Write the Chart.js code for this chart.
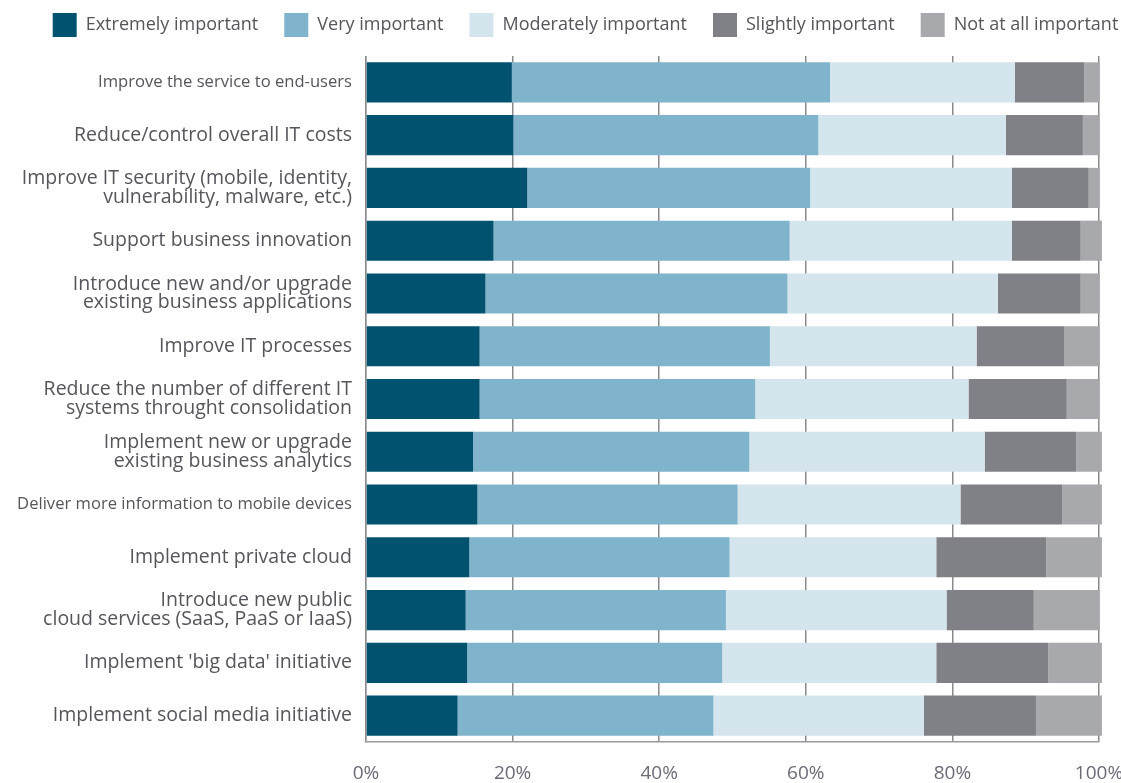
<!DOCTYPE html>
<html>
<head>
<meta charset="utf-8">
<script src="https://cdn.jsdelivr.net/npm/chart.js@4"></script>
<style>
  html, body { margin: 0; padding: 0; background: #fff; overflow: hidden; }
</style>
</head>
<body>
<canvas id="chart" width="1121" height="783"></canvas>
<script>
// priorities, top to bottom
const categories = [
    'Improve the service to end-users',
    'Reduce/control overall IT costs',
    ['Improve IT security (mobile, identity,', 'vulnerability, malware, etc.)'],
    'Support business innovation',
    ['Introduce new and/or upgrade', 'existing business applications'],
    'Improve IT processes',
    ['Reduce the number of different IT', 'systems throught consolidation'],
    ['Implement new or upgrade', 'existing business analytics'],
    'Deliver more information to mobile devices',
    'Implement private cloud',
    ['Introduce new public', 'cloud services (SaaS, PaaS or IaaS)'],
    "Implement 'big data' initiative",
    'Implement social media initiative'
];

const seriesNames = ['Extremely important', 'Very important', 'Moderately important', 'Slightly important', 'Not at all important'];

// percentages
const extremely  = [19.9, 20.1, 22.0, 17.4, 16.3, 15.5, 15.5, 14.6, 15.2, 14.1, 13.6, 13.8, 12.5];
const very       = [43.4, 41.6, 38.6, 40.4, 41.2, 39.6, 37.6, 37.7, 35.5, 35.5, 35.5, 34.8, 34.9];
const moderately = [25.2, 25.6, 27.5, 30.3, 28.7, 28.2, 29.1, 32.1, 30.4, 28.2, 30.1, 29.2, 28.7];
const slightly   = [9.5, 10.5, 10.5, 9.4, 11.3, 12.0, 13.4, 12.5, 13.9, 15.0, 11.9, 15.3, 15.3];
const notAtAll   = [2.1, 2.3, 1.5, 2.9, 2.6, 4.8, 4.5, 3.5, 5.4, 7.6, 9.0, 7.3, 9.0];

const xTicks = [0, 20, 40, 60, 80, 100];

const colors = ['#00526e', '#80b3cc', '#d4e5ee', '#808186', '#a8a9ad'];
const FONT = '"Open Sans", Lato, sans-serif';

// the original squeezes these two long labels
const squeezed = [0, 8];

let allSeries = [extremely, very, moderately, slightly, notAtAll];
let datasets = allSeries.map((vals, i) => ({
    label: seriesNames[i],
    data: vals,
    backgroundColor: colors[i],
    borderWidth: 0,
    barPercentage: 0.76,
    categoryPercentage: 1.0,
    clip: false
}));

// fixed legend band height, and nudge the legend a bit right like the original
const legendTweak = {
    id: 'legendTweak',
    afterInit(chart) {
        let legend = chart.legend;
        let fit = legend.fit;
        legend.fit = function () {
            fit.call(this);
            this.height = 69;
        };
        let draw = legend.draw;
        legend.draw = function () {
            let c = this.ctx;
            c.save();
            c.translate(25, 0);
            draw.apply(this, arguments);
            c.restore();
        };
    }
};

let ctx = document.getElementById('chart').getContext('2d');

let myChart = new Chart(ctx, {
    type: 'bar',
    data: { labels: categories, datasets: datasets },
    plugins: [legendTweak],
    options: {
        indexAxis: 'y',
        responsive: false,
        animation: false,
        layout: { padding: { left: 0, right: 0, top: -13, bottom: 0 } },
        plugins: {
            tooltip: { enabled: false },
            legend: {
                position: 'top',
                labels: {
                    boxWidth: 24,
                    boxHeight: 24,
                    padding: 26,
                    color: '#55555c',
                    font: { family: FONT, size: 18 }
                }
            }
        },
        scales: {
            x: {
                stacked: true,
                min: 0,
                max: 100,
                afterBuildTicks: (axis) => { axis.ticks = xTicks.map(v => ({ value: v })); },
                afterFit: (axis) => {
                    axis.height = 41;
                    axis.paddingRight = 22;
                },
                grid: { color: '#8a8a8e', lineWidth: 1.5, drawTicks: false },
                border: { display: true, color: '#9a9a9e', width: 1.5 },
                ticks: {
                    padding: 20,
                    color: '#6b6b78',
                    font: { family: FONT, size: 19 },
                    callback: (v) => v + '%'
                }
            },
            y: {
                stacked: true,
                grid: { display: false, drawTicks: false },
                border: { display: true, color: '#b0b0b4', width: 1 },
                afterFit: (axis) => { axis.width = 366; },
                ticks: {
                    padding: 14,
                    color: '#55555c',
                    font: (c) => ({
                        family: FONT,
                        size: squeezed.includes(c.index) ? 16.6 : 19.5,
                        lineHeight: 0.95
                    })
                }
            }
        }
    }
});
</script>
</body>
</html>
